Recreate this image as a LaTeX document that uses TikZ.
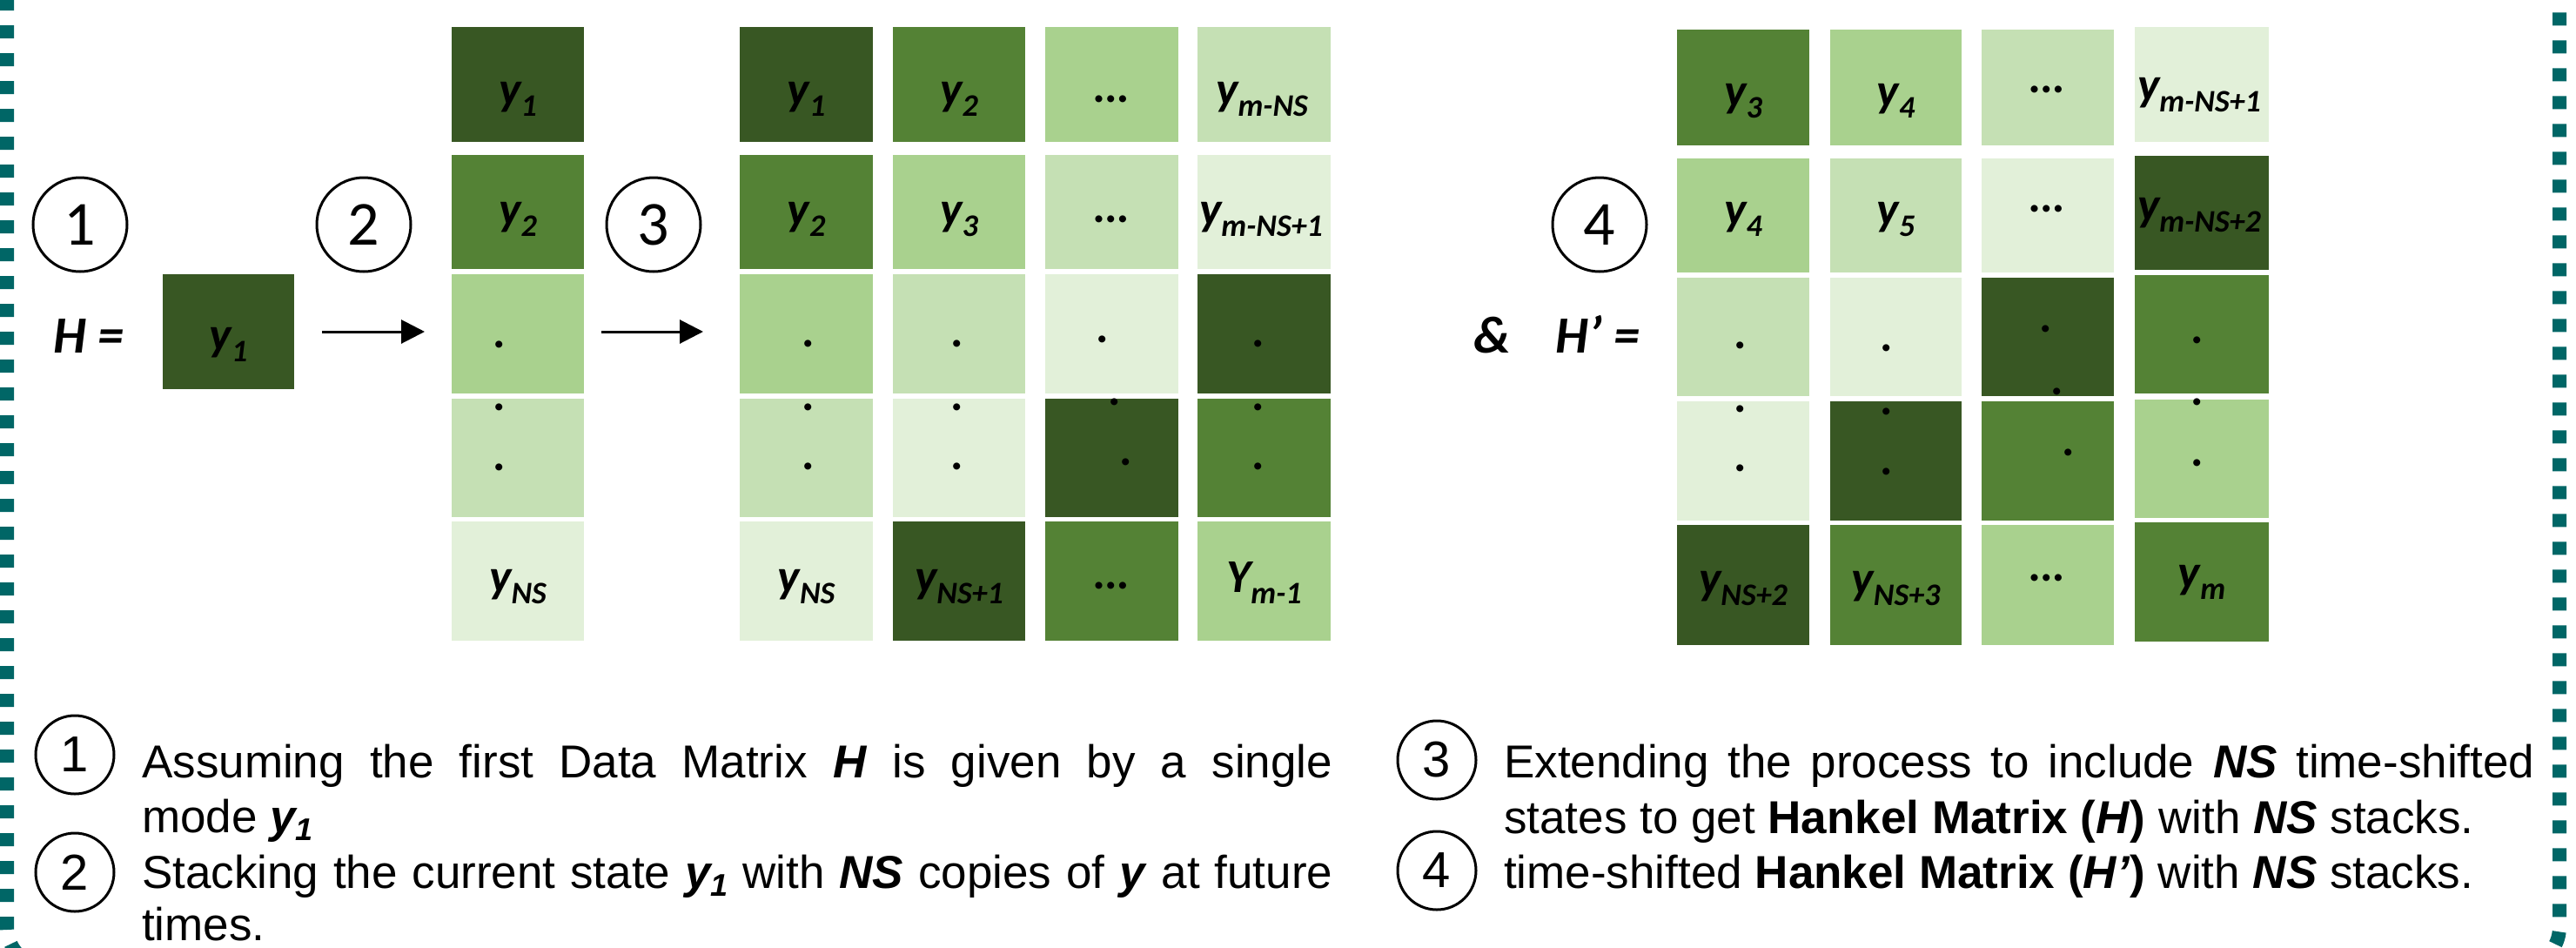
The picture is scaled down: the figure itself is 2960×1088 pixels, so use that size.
\documentclass[tikz,border=0pt]{standalone}
\usepackage{fontspec}
\setmainfont{Liberation Sans}
\newfontfamily\calfont{Carlito}
\usetikzlibrary{arrows.meta}
\definecolor{gA}{HTML}{385723}
\definecolor{gB}{HTML}{548235}
\definecolor{gC}{HTML}{A9D18E}
\definecolor{gD}{HTML}{C5E0B4}
\definecolor{gE}{HTML}{E2F0D9}
\definecolor{bordercol}{RGB}{0,102,102}
\newcommand\cellnode[6]{\node[cellbox,fill=#6,minimum width={(#4-#2)*1pt},minimum height={(#5-#3)*1pt}] (#1) at ({(#2+#4)/2},{(#3+#5)/2}) {};}
\newcommand\ysb[2]{#1\raisebox{-13pt}{\fontsize{36pt}{36pt}\selectfont #2}}
\newcommand\bsub[1]{\raisebox{-9pt}{\fontsize{36pt}{36pt}\selectfont #1}}
\tikzset{
  cellbox/.style={rectangle, draw=none, inner sep=0pt, outer sep=0pt},
  lab/.style={font=\calfont\bfseries\itshape\fontsize{54pt}{54pt}\selectfont, inner sep=0pt, anchor=base},
  dotl/.style={font=\calfont\bfseries\fontsize{54pt}{54pt}\selectfont, inner sep=0pt, anchor=center},
  eqlab/.style={font=\calfont\bfseries\itshape\fontsize{60pt}{60pt}\selectfont, inner sep=0pt, anchor=base west},
  topnum/.style={circle, draw, line width=3pt, minimum size=108pt, inner sep=0pt, font=\calfont\fontsize{72pt}{72pt}\selectfont},
  botnum/.style={circle, draw, line width=3pt, minimum size=90pt, inner sep=0pt, font=\fontsize{58pt}{58pt}\selectfont},
  bt/.style={anchor=base west, inner sep=0pt, font=\fontsize{53pt}{63pt}\selectfont},
  arr/.style={line width=3pt, -{Triangle[length=27pt,width=27pt]}}
}
\begin{document}
\begin{tikzpicture}[x=1pt,y=-1pt]
\useasboundingbox (0,0) rectangle (2960,1088);
\clip (0,0) rectangle (2960,1088);
% dashed frame
\draw[bordercol, line width=16pt, dash pattern=on 15pt off 17pt, rounded corners=45pt] (8,-400) rectangle (2941,1110);

% ---- step 1: H = y1
\node[eqlab] (Heq) at (61,405) {H =};
\cellnode{Hy}{187}{315}{338}{447}{gA}
\node[lab] (lHy) at (262.5,402) {\ysb{y}{1}};

% ---- step 2: stacked column
\foreach \r/\ya/\yb/\c in {1/31/163/gA,2/178/309/gB,3/315/452/gC,4/458/594/gD,5/599/736/gE}{\cellnode{s\r}{519}{\ya}{671}{\yb}{\c}}
\node[lab] (ls1) at (595,120) {\ysb{y}{1}};
\node[lab] (ls2) at (595,258) {\ysb{y}{2}};
\node[lab] (ls5) at (595,680) {\ysb{y}{NS}};
\node[dotl] (ds3) at (574,396) {.};
\node[dotl] (ds4a) at (574,468) {.};
\node[dotl] (ds4b) at (574,537) {.};

% ---- step 3: Hankel matrix H
\foreach \r/\ya/\yb/\c in {1/31/163/gA,2/178/309/gB,3/315/452/gC,4/458/594/gD,5/599/736/gE}{\cellnode{ma\r}{850}{\ya}{1003}{\yb}{\c}}
\foreach \r/\ya/\yb/\c in {1/31/163/gB,2/178/309/gC,3/315/452/gD,4/458/594/gE,5/599/736/gA}{\cellnode{mb\r}{1026}{\ya}{1178}{\yb}{\c}}
\foreach \r/\ya/\yb/\c in {1/31/163/gC,2/178/309/gD,3/315/452/gE,4/458/594/gA,5/599/736/gB}{\cellnode{mc\r}{1201}{\ya}{1354}{\yb}{\c}}
\foreach \r/\ya/\yb/\c in {1/31/163/gD,2/178/309/gE,3/315/452/gA,4/458/594/gB,5/599/736/gC}{\cellnode{md\r}{1376}{\ya}{1529}{\yb}{\c}}
\node[lab] (lma1) at (926.5,120) {\ysb{y}{1}};
\node[lab] (lma2) at (926.5,258) {\ysb{y}{2}};
\node[lab] (lma5) at (926.5,680) {\ysb{y}{NS}};
\node[lab] (lmb1) at (1102,120) {\ysb{y}{2}};
\node[lab] (lmb2) at (1102,258) {\ysb{y}{3}};
\node[lab] (lmb5) at (1102,680) {\ysb{y}{NS+1}};
\node[lab] (lmc1) at (1277.5,117) {…};
\node[lab] (lmc2) at (1277.5,255) {…};
\node[lab] (lmc5) at (1277.5,676) {…};
\node[lab] (lmd1) at (1450,120) {\ysb{y}{m-NS}};
\node[lab] (lmd2) at (1449,258) {\ysb{y}{m-NS+1}};
\node[lab] (lmd5) at (1452.5,680) {\ysb{Y}{m-1}};
\node[dotl] (dma3) at (929,395) {.};
\node[dotl] (dma4a) at (929,468) {.};
\node[dotl] (dma4b) at (929,536) {.};
\node[dotl] (dmb3) at (1100,395) {.};
\node[dotl] (dmb4a) at (1100,468) {.};
\node[dotl] (dmb4b) at (1100,536) {.};
\node[dotl] (dmc3) at (1267,390) {.};
\node[dotl] (dmc4a) at (1281,462) {.};
\node[dotl] (dmc4b) at (1294,531) {.};
\node[dotl] (dmd3) at (1446,395) {.};
\node[dotl] (dmd4a) at (1446,468) {.};
\node[dotl] (dmd4b) at (1446,536) {.};

% ---- step 4: time-shifted Hankel matrix H'
\node[eqlab] (Hpeq) at (1693,405) {\&\hspace{52pt}H’ =};
\foreach \r/\ya/\yb/\c in {1/34/167/gB,2/182/313/gC,3/319/455/gD,4/461/598/gE,5/603/741/gA}{\cellnode{pa\r}{1927}{\ya}{2079}{\yb}{\c}}
\foreach \r/\ya/\yb/\c in {1/34/167/gC,2/182/313/gD,3/319/455/gE,4/461/598/gA,5/603/741/gB}{\cellnode{pb\r}{2103}{\ya}{2254}{\yb}{\c}}
\foreach \r/\ya/\yb/\c in {1/34/167/gD,2/182/313/gE,3/319/455/gA,4/461/598/gB,5/603/741/gC}{\cellnode{pc\r}{2277}{\ya}{2429}{\yb}{\c}}
\foreach \r/\ya/\yb/\c in {1/31/163/gE,2/179/310/gA,3/316/452/gB,4/459/595/gC,5/600/737/gB}{\cellnode{pd\r}{2453}{\ya}{2607}{\yb}{\c}}
\node[lab] (lpa1) at (2003,122) {\ysb{y}{3}};
\node[lab] (lpa2) at (2003,258) {\ysb{y}{4}};
\node[lab] (lpa5) at (2003,682) {\ysb{y}{NS+2}};
\node[lab] (lpb1) at (2178.5,122) {\ysb{y}{4}};
\node[lab] (lpb2) at (2178.5,258) {\ysb{y}{5}};
\node[lab] (lpb5) at (2178.5,682) {\ysb{y}{NS+3}};
\node[lab] (lpc1) at (2353,106) {…};
\node[lab] (lpc2) at (2353,243) {…};
\node[lab] (lpc5) at (2353,667) {…};
\node[lab] (lpd1) at (2527,115) {\ysb{y}{m-NS+1}};
\node[lab] (lpd2) at (2527,253) {\ysb{y}{m-NS+2}};
\node[lab] (lpd5) at (2530,675) {\ysb{y}{m}};
\node[dotl] (dpa3) at (2000,397) {.};
\node[dotl] (dpa4a) at (2000,470) {.};
\node[dotl] (dpa4b) at (2000,538) {.};
\node[dotl] (dpb3) at (2168,400) {.};
\node[dotl] (dpb4a) at (2168,473) {.};
\node[dotl] (dpb4b) at (2168,542) {.};
\node[dotl] (dpc3) at (2351,378) {.};
\node[dotl] (dpc4a) at (2364,450) {.};
\node[dotl] (dpc4b) at (2377,520) {.};
\node[dotl] (dpd3) at (2525,391) {.};
\node[dotl] (dpd4a) at (2525,462) {.};
\node[dotl] (dpd4b) at (2525,532) {.};

% ---- arrows
\draw[arr, shorten <=32pt, shorten >=31pt] (Hy.east) -- (Hy.east -| s3.west);
\draw[arr, shorten <=20pt, shorten >=42pt] (s3.east |- Hy.east) -- (Hy.east -| ma3.west);

% ---- circled step numbers
\node[topnum] (c1) at (92,258) {1};
\node[topnum] (c2) at (418,258) {2};
\node[topnum] (c3) at (751,258) {3};
\node[topnum] (c4) at (1838,258) {4};

% ---- legend
\node[botnum] (b1) at (86,867) {1};
\node[botnum] (b2) at (86,1002) {2};
\node[botnum] (b3) at (1651,873) {3};
\node[botnum] (b4) at (1651,1000) {4};
\node[bt] (t1) at (163,893) {\makebox[1368pt][s]{Assuming the first Data Matrix \textbf{\textit{H}} is given by a single}};
\node[bt] (t2) at (163,956) {mode \textbf{\textit{y\bsub{1}}}};
\node[bt] (t3) at (163,1020) {\makebox[1368pt][s]{Stacking the current state \textbf{\textit{y\bsub{1}}} with \textbf{\textit{NS}} copies of \textbf{\textit{y}} at future}};
\node[bt] (t4) at (163,1080) {times.};
\node[bt] (t5) at (1728,893) {\makebox[1184pt][s]{Extending the process to include \textbf{\textit{NS}} time-shifted}};
\node[bt] (t6) at (1728,957) {states to get \textbf{Hankel Matrix (\textit{H})} with \textbf{\textit{NS}} stacks.};
\node[bt] (t7) at (1728,1020) {time-shifted \textbf{Hankel Matrix (\textit{H’})} with \textbf{\textit{NS}} stacks.};
\end{tikzpicture}
\end{document}
